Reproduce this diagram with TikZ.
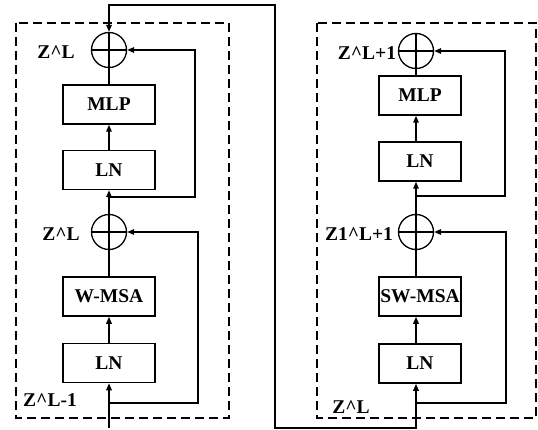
\documentclass[tikz,border=0pt]{standalone}
\usepackage{fontspec}
\setmainfont{Liberation Serif}
\usetikzlibrary{arrows.meta}
\begin{document}
\begin{tikzpicture}[x=1pt,y=-1pt,
  every node/.style={font=\fontsize{19.5}{21}\selectfont\bfseries},
  blk/.style={draw,line width=1.5pt,minimum height=39pt,inner sep=0pt},
  blkL/.style={blk,minimum width=92pt},
  blkR/.style={blk,minimum width=82pt},
  addop/.style={draw,circle,line width=1.3pt,minimum size=35pt,inner sep=0pt,
    path picture={\draw[line width=1.3pt] (path picture bounding box.north) -- (path picture bounding box.south)
      (path picture bounding box.west) -- (path picture bounding box.east);}},
  ln/.style={line width=1.5pt},
  arr/.style={ln,-{Triangle[length=7pt,width=5.5pt]}},
  darr/.style={ln,{Triangle[length=7pt,width=5.5pt]}-{Triangle[length=7pt,width=5.5pt]}},
  dbox/.style={draw,line width=1.5pt,dash pattern=on 9pt off 5pt},
  lbl/.style={inner sep=0pt}]
\useasboundingbox (0,0) rectangle (538,430);
% dashed frames
\draw[dbox] (16,23) rectangle (229,418);
\draw[dbox] (317,23) rectangle (536,418);
% left column
\node[addop] (addA) at (109,50) {};
\node[addop] (addB) at (109,232) {};
\node[blkL] (mlpL) at (109,104.5) {MLP};
\node[blkL] (lnL1) at (109,170) {LN};
\node[blkL] (wmsa) at (109,296.5) {W-MSA};
\node[blkL] (lnL2) at (109,363) {LN};
% right column
\node[addop] (addC) at (416,51) {};
\node[addop] (addD) at (416,232) {};
\node[blkR] (mlpR) at (420,95.5) {MLP};
\node[blkR] (lnR1) at (420,161.5) {LN};
\node[blkR] (swmsa) at (420,296.5) {SW-MSA};
\node[blkR] (lnR2) at (420,363.5) {LN};
% labels
\node[lbl] (zA) at (56,52) {Z\textasciicircum L};
\node[lbl] (zB) at (61,234) {Z\textasciicircum L};
\node[lbl] (zIn) at (50,400) {Z\textasciicircum L-1};
\node[lbl] (zC) at (367,53) {Z\textasciicircum L+1};
\node[lbl] (zD) at (359,234) {Z1\textasciicircum L+1};
\node[lbl] (zInR) at (351,407) {Z\textasciicircum L};
% coordinates
\coordinate (inL) at (109,428);
\coordinate (bL2) at (109,403);
\coordinate (bL1) at (109,197);
\coordinate (bR2) at (416,403);
\coordinate (bR1) at (416,196);
% left flow
\draw[arr] (inL) -- (lnL2.south -| inL);
\draw[arr] (lnL2.north -| inL) -- (wmsa.south -| inL);
\draw[ln] (wmsa.north -| inL) -- (addB.south);
\draw[arr] (addB.north) -- (lnL1.south -| addB);
\draw[arr] (lnL1.north -| addB) -- (mlpL.south -| addB);
\draw[ln] (mlpL.north -| addA) -- (addA.south);
\draw[arr] (bL2) -- ++(89,0) |- (addB.east);
\draw[arr] (bL1) -- ++(86,0) |- (addA.east);
% right flow
\draw[arr] (lnR2.north -| addD) -- (swmsa.south -| addD);
\draw[ln] (swmsa.north -| addD) -- (addD.south);
\draw[arr] (addD.north) -- (lnR1.south -| addD);
\draw[arr] (lnR1.north -| addD) -- (mlpR.south -| addD);
\draw[ln] (mlpR.north -| addC) -- (addC.south);
\draw[arr] (bR2) -- ++(90,0) |- (addD.east);
\draw[arr] (bR1) -- ++(89,0) |- (addC.east);
% connection between blocks
\draw[darr] (addA.north) -- (109,5) -- (275,5) -- (275,428) -- (416,428) -- (lnR2.south -| bR2);
\end{tikzpicture}
\end{document}
